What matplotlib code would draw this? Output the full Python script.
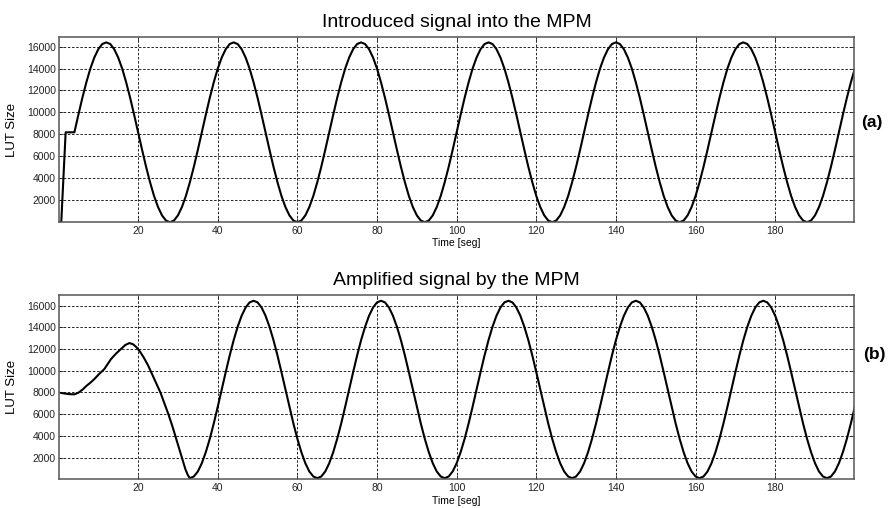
import matplotlib
matplotlib.use("Agg")
import matplotlib.pyplot as plt
import numpy as np

plt.rcParams["font.family"] = ["Liberation Sans", "DejaVu Sans"]

# --- (a) introduced signal: start-up step, then samples every 1 s ---
t_a = np.concatenate([[0, 0.7, 1.8, 4], np.arange(5, 201, 1)])
lut_a = [
    0, 0, 8190, 8190,
    9790, 11330, 12740, 13990, 15000, 15760, 16230, 16380, 16230, 15760, 15000, 13990, 12740, 11330, 9790, 8190,
    6590, 5050, 3640, 2390, 1380, 620, 150, 0, 150, 620, 1380, 2390, 3640, 5050, 6590, 8190,
    9790, 11330, 12740, 13990, 15000, 15760, 16230, 16380, 16230, 15760, 15000, 13990, 12740, 11330, 9790, 8190,
    6590, 5050, 3640, 2390, 1380, 620, 150, 0, 150, 620, 1380, 2390, 3640, 5050, 6590, 8190,
    9790, 11330, 12740, 13990, 15000, 15760, 16230, 16380, 16230, 15760, 15000, 13990, 12740, 11330, 9790, 8190,
    6590, 5050, 3640, 2390, 1380, 620, 150, 0, 150, 620, 1380, 2390, 3640, 5050, 6590, 8190,
    9790, 11330, 12740, 13990, 15000, 15760, 16230, 16380, 16230, 15760, 15000, 13990, 12740, 11330, 9790, 8190,
    6590, 5050, 3640, 2390, 1380, 620, 150, 0, 150, 620, 1380, 2390, 3640, 5050, 6590, 8190,
    9790, 11330, 12740, 13990, 15000, 15760, 16230, 16380, 16230, 15760, 15000, 13990, 12740, 11330, 9790, 8190,
    6590, 5050, 3640, 2390, 1380, 620, 150, 0, 150, 620, 1380, 2390, 3640, 5050, 6590, 8190,
    9790, 11330, 12740, 13990, 15000, 15760, 16230, 16380, 16230, 15760, 15000, 13990, 12740, 11330, 9790, 8190,
    6590, 5050, 3640, 2390, 1380, 620, 150, 0, 150, 620, 1380, 2390, 3640, 5050, 6590, 8190,
    9790, 11330, 12740, 13990,
]

# --- (b) amplified signal: transient read point by point, then every 1 s ---
t_b = np.concatenate([
    [0.7, 2, 3, 4, 5, 6, 7, 8, 9, 10.2, 11.5, 13.2, 14.5, 15.7, 16.8, 17.8, 18.7, 19.5, 20.5,
     21.4, 22.5, 23.5, 25.6, 27.6, 28.6, 29.5, 30.4, 31.2, 31.9, 32.5],
    np.arange(33, 201, 1),
])
lut_b = [
    7950, 7880, 7840, 7830, 7980, 8250, 8600, 8900, 9230, 9700, 10150, 11080, 11600, 12000, 12380, 12550, 12450, 12200, 11750,
    11230, 10500, 9700, 8000, 6000, 4900, 3800, 2700, 1700, 900, 380,
    100, 260, 720, 1480, 2500, 3730, 5140, 6680, 8280, 9870, 11410, 12820, 14050, 15070, 15830, 16300,
    16450, 16300, 15830, 15070, 14050, 12820, 11410, 9870, 8280, 6680, 5140, 3730, 2500, 1480, 720, 260,
    100, 260, 720, 1480, 2500, 3730, 5140, 6680, 8280, 9870, 11410, 12820, 14050, 15070, 15830, 16300,
    16450, 16300, 15830, 15070, 14050, 12820, 11410, 9870, 8280, 6680, 5140, 3730, 2500, 1480, 720, 260,
    100, 260, 720, 1480, 2500, 3730, 5140, 6680, 8280, 9870, 11410, 12820, 14050, 15070, 15830, 16300,
    16450, 16300, 15830, 15070, 14050, 12820, 11410, 9870, 8280, 6680, 5140, 3730, 2500, 1480, 720, 260,
    100, 260, 720, 1480, 2500, 3730, 5140, 6680, 8280, 9870, 11410, 12820, 14050, 15070, 15830, 16300,
    16450, 16300, 15830, 15070, 14050, 12820, 11410, 9870, 8280, 6680, 5140, 3730, 2500, 1480, 720, 260,
    100, 260, 720, 1480, 2500, 3730, 5140, 6680, 8280, 9870, 11410, 12820, 14050, 15070, 15830, 16300,
    16450, 16300, 15830, 15070, 14050, 12820, 11410, 9870, 8280, 6680, 5140, 3730, 2500, 1480, 720, 260,
    100, 260, 720, 1480, 2500, 3730, 5140, 6680,
]

x_ticks = list(range(20, 181, 20))
y_ticks = list(range(2000, 16001, 2000))


def style_axes(ax, ylim_top):
    ax.set_xlim(0.2, 199.8)
    ax.set_ylim(0, ylim_top)
    ax.set_xticks(x_ticks)
    ax.set_yticks(y_ticks)
    ax.tick_params(direction="in", length=3, width=0.6, labelsize=7.5, pad=2.5,
                   top=True, right=True, colors="#222222")
    ax.grid(True, color="#222222", linestyle=(0, (2.5, 1.8)), linewidth=0.7)
    for s in ax.spines.values():
        s.set_color("#555555")
        s.set_linewidth(1.1)
    ax.set_xlabel("Time [seg]", fontsize=7.5, labelpad=2)
    ax.set_ylabel("LUT Size", fontsize=9.5, labelpad=6)


fig = plt.figure(figsize=(8.94, 5.08), dpi=100)
ax1 = fig.add_axes([0.0663, 0.5626, 0.889, 0.3652])
ax2 = fig.add_axes([0.0663, 0.0565, 0.889, 0.3632])

ax1.plot(t_a, lut_a, color="black", linewidth=1.5)
style_axes(ax1, 16900)
ax1.set_title("Introduced signal into the MPM", fontsize=14, pad=7)

ax2.plot(t_b, lut_b, color="black", linewidth=1.5)
style_axes(ax2, 17000)
ax2.set_title("Amplified signal by the MPM", fontsize=14, pad=7)

fig.text(872 / 894, 1 - 123 / 508, "(a)", fontsize=12.5, fontweight="bold",
         ha="center", va="center")
fig.text(874 / 894, 1 - 355 / 508, "(b)", fontsize=12.5, fontweight="bold",
         ha="center", va="center")

fig.savefig("out.png", dpi=100)
